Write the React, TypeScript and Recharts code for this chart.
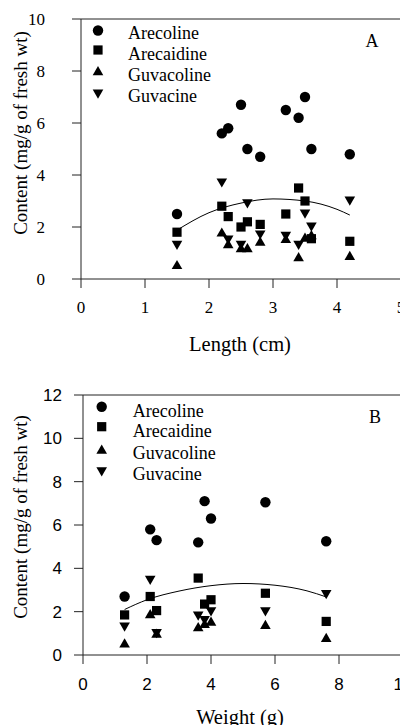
import React from "react";
import {
  ScatterChart,
  Scatter,
  XAxis,
  YAxis,
  ReferenceLine,
  Legend,
  Label,
} from "recharts";

// panel A: content vs. nut length
const lengthCm = [1.5, 2.2, 2.3, 2.5, 2.6, 2.8, 3.2, 3.4, 3.5, 3.6, 4.2];
const arecolineA = [2.5, 5.6, 5.8, 6.7, 5.0, 4.7, 6.5, 6.2, 7.0, 5.0, 4.8];
const arecaidineA = [1.8, 2.8, 2.4, 2.0, 2.2, 2.1, 2.5, 3.5, 3.0, 1.55, 1.45];
const guvacolineA = [0.55, 1.8, 1.35, 1.2, 1.2, 1.45, 1.55, 0.85, 1.6, 1.7, 0.9];
const guvacineA = [1.3, 3.7, 1.5, 1.3, 2.9, 1.7, 1.65, 1.3, 2.5, 2.0, 3.0];
const fitXA = [1.5, 2.0, 2.5, 3.0, 3.5, 4.0, 4.2];
const fitYA = [1.88, 2.55, 2.92, 3.08, 3.0, 2.68, 2.46];

// panel B: content vs. nut weight
const weightG = [1.3, 2.1, 2.3, 3.6, 3.8, 4.0, 5.7, 7.6];
const arecolineB = [2.7, 5.8, 5.3, 5.2, 7.1, 6.3, 7.05, 5.25];
const arecaidineB = [1.85, 2.7, 2.05, 3.55, 2.35, 2.55, 2.85, 1.55];
const guvacolineB = [0.55, 1.9, 1.0, 1.3, 1.45, 1.55, 1.4, 0.8];
const guvacineB = [1.3, 3.45, 1.0, 1.8, 1.6, 2.0, 2.0, 2.8];
const fitXB = [1.3, 2, 3, 4, 5, 6, 7, 7.6];
const fitYB = [2.1, 2.55, 2.95, 3.2, 3.3, 3.22, 2.96, 2.68];

const seriesNames = ["Arecoline", "Arecaidine", "Guvacoline", "Guvacine"];
const ticksA_x = [0, 1, 2, 3, 4, 5];
const ticksA_y = [0, 2, 4, 6, 8, 10];
const ticksB_x = [0, 2, 4, 6, 8, 10];
const ticksB_y = [0, 2, 4, 6, 8, 10, 12];

const SERIF = "'Liberation Serif', 'Times New Roman', serif";
const SANS = "'Liberation Sans', Arial, sans-serif";
const AXIS = "#222";

const zip = (xs: number[], ys: number[]) => xs.map((x, i) => ({ x, y: ys[i] }));

function marker(kind: number, cx: number, cy: number) {
  if (kind === 0) return <circle cx={cx} cy={cy} r={5.2} fill="#000" />;
  if (kind === 1) return <rect x={cx - 4.6} y={cy - 4.6} width={9.2} height={9.2} fill="#000" />;
  if (kind === 2)
    return <polygon points={`${cx},${cy - 4.8} ${cx - 5.3},${cy + 4.4} ${cx + 5.3},${cy + 4.4}`} fill="#000" />;
  return <polygon points={`${cx},${cy + 4.8} ${cx - 5.3},${cy - 4.4} ${cx + 5.3},${cy - 4.4}`} fill="#000" />;
}

const shapeFor = (kind: number) => (p: any) => marker(kind, p.cx, p.cy);

type LegendLayout = {
  mx: number;
  my: number[];
  tx: number;
  ty: number[];
  panel: string;
  px: number;
  py: number;
};

function LegendBox({ l }: { l: LegendLayout }) {
  return (
    <svg width={320} height={100} style={{ display: "block" }}>
      {seriesNames.map((n, i) => (
        <g key={n}>
          {marker(i, l.mx, l.my[i])}
          <text x={l.tx} y={l.ty[i]} fontFamily={SERIF} fontSize={18} fill="#000">
            {n}
          </text>
        </g>
      ))}
      <text x={l.px} y={l.py} textAnchor="middle" fontFamily={SERIF} fontSize={18} fill="#000">
        {l.panel}
      </text>
    </svg>
  );
}

function Panel({
  xs,
  series,
  fitX,
  fitY,
  xMax,
  yMax,
  xTicks,
  yTicks,
  yAxisW,
  height,
  tickFont,
  yLabelRight,
  xTickMargin,
  xTitle,
  xTitleDrop,
  xTitleShift,
  yTitleShift,
  legend,
}: {
  xs: number[];
  series: number[][];
  fitX: number[];
  fitY: number[];
  xMax: number;
  yMax: number;
  xTicks: number[];
  yTicks: number[];
  yAxisW: number;
  height: number;
  tickFont: string;
  yLabelRight: number;
  xTickMargin: number;
  xTitle: string;
  xTitleDrop: number;
  xTitleShift: number;
  yTitleShift: number;
  legend: LegendLayout;
}) {
  const tick = { fontFamily: tickFont, fontSize: 17, fill: "#000" };
  const yTick = (p: any) => (
    <text
      x={yLabelRight}
      y={p.y}
      dy="0.355em"
      textAnchor="end"
      fontFamily={tickFont}
      fontSize={17}
      fill="#000"
    >
      {p.payload.value}
    </text>
  );
  return (
    <ScatterChart
      width={420}
      height={height}
      margin={{ top: 19, right: 420 - yAxisW - 320, bottom: height - 19 - 260 - 30, left: 0 }}
    >
      <XAxis
        type="number"
        dataKey="x"
        domain={[0, xMax]}
        ticks={xTicks}
        allowDataOverflow
        height={30}
        tickSize={9}
        tickMargin={xTickMargin}
        tick={tick}
        stroke={AXIS}
        tickLine={{ stroke: AXIS }}
      >
        <Label
          content={({ viewBox }: any) => (
            <text
              x={viewBox.x + viewBox.width / 2 + xTitleShift}
              y={viewBox.y + xTitleDrop}
              textAnchor="middle"
              fontFamily={SERIF}
              fontSize={20.5}
              fill="#000"
            >
              {xTitle}
            </text>
          )}
        />
      </XAxis>
      <YAxis
        type="number"
        dataKey="y"
        domain={[0, yMax]}
        ticks={yTicks}
        allowDataOverflow
        width={yAxisW}
        tickSize={9}
        tick={yTick}
        stroke={AXIS}
        tickLine={{ stroke: AXIS }}
      >
        <Label
          content={({ viewBox }: any) => {
            const cy = viewBox.y + viewBox.height / 2 + yTitleShift;
            return (
              <text
                x={27}
                y={cy}
                transform={`rotate(-90, 27, ${cy})`}
                textAnchor="middle"
                fontFamily={SERIF}
                fontSize={19}
                fill="#000"
              >
                Content (mg/g of fresh wt)
              </text>
            );
          }}
        />
      </YAxis>
      <ReferenceLine y={yMax} stroke={AXIS} />
      <ReferenceLine x={xMax} stroke={AXIS} />
      <Legend
        layout="vertical"
        align="center"
        verticalAlign="middle"
        wrapperStyle={{ position: "absolute", top: 19, left: yAxisW, width: 320, height: 100 }}
        content={() => <LegendBox l={legend} />}
      />
      {series.map((ys, i) => (
        <Scatter
          key={seriesNames[i]}
          name={seriesNames[i]}
          data={zip(xs, ys)}
          shape={shapeFor(i)}
          isAnimationActive={false}
        />
      ))}
      <Scatter
        name="fit"
        data={zip(fitX, fitY)}
        line={{ stroke: "#000", strokeWidth: 1 }}
        lineType="joint"
        lineJointType="monotoneX"
        shape={() => <g />}
        legendType="none"
        isAnimationActive={false}
      />
    </ScatterChart>
  );
}

export default function App() {
  return (
    <div
      style={{
        position: "fixed",
        left: 0,
        top: 0,
        width: 400,
        height: 726,
        overflow: "hidden",
        background: "#fff",
      }}
    >
      <div style={{ position: "absolute", left: 0, top: 0 }}>
        <Panel
          xs={lengthCm}
          series={[arecolineA, arecaidineA, guvacolineA, guvacineA]}
          fitX={fitXA}
          fitY={fitYA}
          xMax={5}
          yMax={10}
          xTicks={ticksA_x}
          yTicks={ticksA_y}
          yAxisW={81}
          height={360}
          tickFont={SERIF}
          yLabelRight={45}
          xTickMargin={13}
          xTitle="Length (cm)"
          xTitleDrop={72}
          xTitleShift={-1}
          yTitleShift={-16}
          legend={{
            mx: 17,
            my: [11.5, 31, 51.8, 75],
            tx: 47,
            ty: [20, 41, 62, 82.5],
            panel: "A",
            px: 291,
            py: 28,
          }}
        />
      </div>
      <div style={{ position: "absolute", left: 0, top: 376 }}>
        <Panel
          xs={weightG}
          series={[arecolineB, arecaidineB, guvacolineB, guvacineB]}
          fitX={fitXB}
          fitY={fitYB}
          xMax={10}
          yMax={12}
          xTicks={ticksB_x}
          yTicks={ticksB_y}
          yAxisW={83}
          height={349}
          tickFont={SANS}
          yLabelRight={62}
          xTickMargin={14}
          xTitle="Weight (g)"
          xTitleDrop={69}
          xTitleShift={-3}
          yTitleShift={-8}
          legend={{
            mx: 18.7,
            my: [11.7, 31.7, 54.3, 76.7],
            tx: 49.7,
            ty: [22, 42, 64, 85],
            panel: "B",
            px: 292,
            py: 28,
          }}
        />
      </div>
    </div>
  );
}
